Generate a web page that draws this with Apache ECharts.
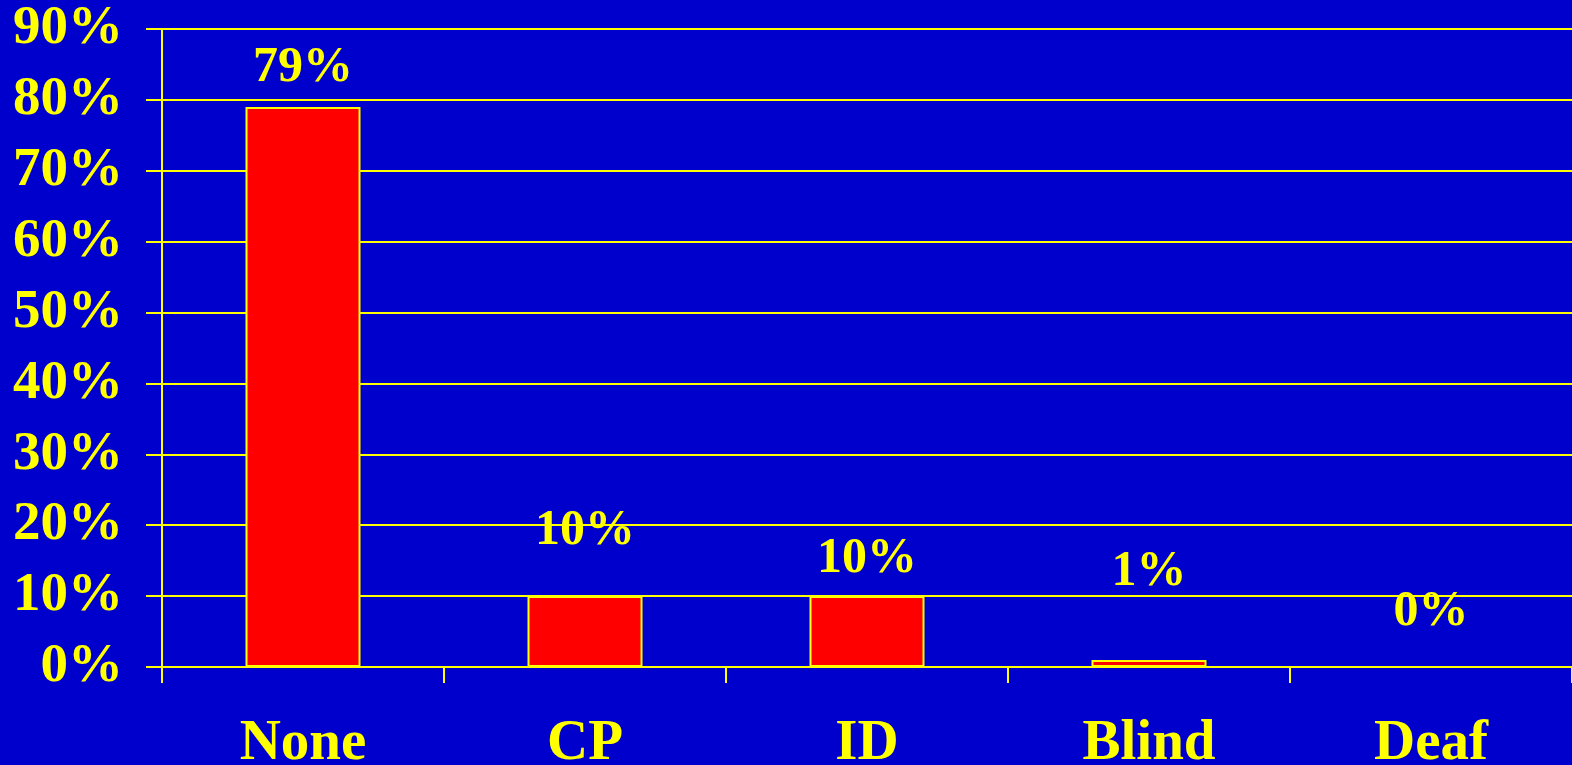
<!DOCTYPE html>
<html>
<head>
<meta charset="utf-8">
<script src="https://cdn.jsdelivr.net/npm/echarts@6/dist/echarts.min.js"></script>
<style>
  html, body { margin: 0; padding: 0; background: #0000cc; }
  #chart { width: 1572px; height: 765px; }
</style>
</head>
<body>
<div id="chart"></div>
<script>
// Disability categories and their share of the group (percent)
const categories = ['None', 'CP', 'ID', 'Blind', 'Deaf'];
const shares = [79, 10, 10, 1, 0];
// Extra lift (px) for each value label above its bar
const labelLift = [0, 26, -2, 49, 15];

const FONT = '"Times New Roman", "Liberation Serif", serif';
const YELLOW = '#ffff00';

const chart = echarts.init(document.getElementById('chart'));
chart.setOption({
  backgroundColor: '#0000cc',
  animation: false,
  grid: {
    left: 162, right: 0, top: 29, bottom: 98,
    containLabel: false, outerBoundsMode: 'none'
  },
  xAxis: {
    type: 'category',
    data: categories,
    axisLine: { show: true, lineStyle: { color: YELLOW, width: 2 } },
    axisTick: { show: true, alignWithLabel: false, length: 16, lineStyle: { color: YELLOW, width: 2 } },
    axisLabel: {
      color: YELLOW, fontFamily: FONT, fontWeight: 'bold', fontSize: 57,
      margin: 49, interval: 0
    },
    splitLine: { show: false }
  },
  yAxis: {
    type: 'value',
    min: 0, max: 90, interval: 10,
    axisLine: { show: true, lineStyle: { color: YELLOW, width: 2 } },
    axisTick: { show: true, inside: false, length: 16, lineStyle: { color: YELLOW, width: 2 } },
    axisLabel: {
      color: YELLOW, fontFamily: FONT, fontWeight: 'bold', fontSize: 55,
      margin: 39, formatter: '{value}%'
    },
    splitLine: { show: true, lineStyle: { color: YELLOW, width: 2 } }
  },
  series: [{
    type: 'bar',
    barWidth: 115,
    data: shares.map((v, i) => ({
      value: v,
      label: { offset: [0, -labelLift[i]] }
    })),
    itemStyle: { color: '#ff0000', borderColor: YELLOW, borderWidth: 2 },
    label: {
      show: true, position: 'top', distance: 14,
      color: YELLOW, fontFamily: FONT, fontWeight: 'bold', fontSize: 50,
      formatter: '{c}%'
    }
  }]
});
</script>
</body>
</html>
